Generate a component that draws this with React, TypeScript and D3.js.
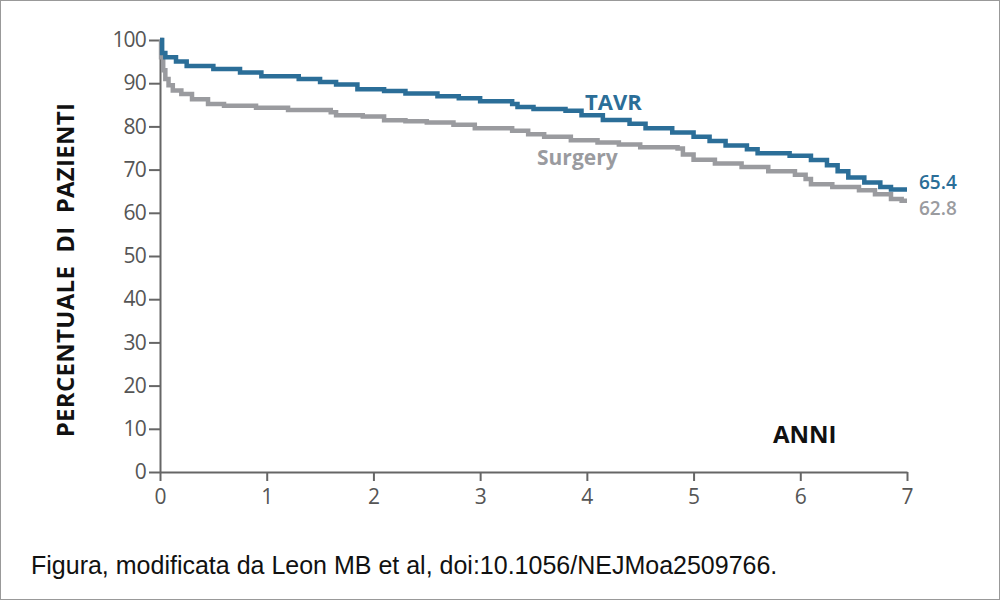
import { useEffect, useRef } from 'react';
import * as d3 from 'd3';

// Kaplan-Meier style curves (years, percent)
const tavrTimes = [0, 0.02, 0.05, 0.15, 0.25, 0.5, 0.75, 0.95, 1.3, 1.5, 1.65, 1.85, 2.1, 2.3, 2.6, 2.8, 3.0, 3.3, 3.35, 3.5, 3.8, 3.95, 4.15, 4.4, 4.55, 4.8, 5.0, 5.15, 5.3, 5.5, 5.6, 5.9, 6.1, 6.25, 6.35, 6.45, 6.6, 6.75, 6.85, 7.0];
const tavrValues = [100, 97, 96, 95, 94, 93.3, 92.5, 91.6, 91, 90.3, 89.7, 88.6, 88.2, 87.6, 87, 86.5, 85.8, 85.2, 84.5, 84, 83.6, 82.6, 81.5, 80.6, 79.6, 78.6, 77.6, 76.6, 75.6, 74.7, 73.8, 73.2, 72.2, 71, 69.6, 68.2, 67, 66, 65.4, 65.4];

const surgeryTimes = [0, 0.01, 0.03, 0.05, 0.08, 0.12, 0.2, 0.3, 0.45, 0.6, 0.9, 1.2, 1.6, 1.65, 1.9, 2.1, 2.3, 2.5, 2.75, 2.95, 3.3, 3.45, 3.6, 3.85, 4.1, 4.3, 4.5, 4.85, 4.9, 5.0, 5.2, 5.45, 5.7, 5.95, 6.05, 6.1, 6.3, 6.55, 6.7, 6.85, 6.95, 7.0];
const surgeryValues = [100, 96, 93, 91, 89.5, 88.3, 87.5, 86.3, 85.2, 84.8, 84.3, 83.8, 83.3, 82.6, 82.3, 81.4, 81.2, 80.9, 80.4, 79.6, 79.0, 78.2, 77.6, 76.8, 76.3, 75.8, 75.2, 74.9, 73.5, 72.3, 71.4, 70.6, 69.6, 68.8, 67.8, 66.6, 66, 65.2, 64.3, 63.2, 62.8, 62.8];

const xTicks = [0, 1, 2, 3, 4, 5, 6, 7];
const yTicks = [0, 10, 20, 30, 40, 50, 60, 70, 80, 90, 100];

const seriesNames = ['TAVR', 'Surgery'];
const finalLabels = ['65.4', '62.8'];

const BLUE = '#2b6e98';
const GRAY = '#9a9b9f';
const AXIS = '#666';
const TICK_TEXT = '#555';

export default function App() {
  const svgRef = useRef<SVGSVGElement>(null);

  useEffect(() => {
    if (!svgRef.current) return;
    document.body.style.margin = '0';

    const svg = d3.select(svgRef.current);
    svg.selectAll('*').remove();

    const width = 1000;
    const height = 600;
    const margin = { top: 40, right: 93, bottom: 128, left: 160 };

    svg.append('rect')
      .attr('x', 0.5).attr('y', 0.5)
      .attr('width', width - 1).attr('height', height - 1)
      .attr('fill', '#fff')
      .attr('stroke', '#999')
      .attr('stroke-width', 1);

    const x = d3.scaleLinear().domain([0, 7]).range([margin.left, width - margin.right]);
    const y = d3.scaleLinear().domain([0, 100]).range([height - margin.bottom, margin.top]);

    const font = '"Open Sans", "DejaVu Sans", sans-serif';

    // x axis
    const xAxis = svg.append('g')
      .attr('transform', `translate(0,${y(0)})`)
      .call(d3.axisBottom(x).tickValues(xTicks).tickFormat(d3.format('d')).tickSize(9).tickPadding(8).tickSizeOuter(0));
    xAxis.select('.domain').attr('stroke', AXIS).attr('stroke-width', 2);
    xAxis.selectAll('.tick line').attr('stroke', AXIS).attr('stroke-width', 2);
    xAxis.selectAll('.tick text')
      .attr('fill', TICK_TEXT)
      .style('font-family', font)
      .style('font-size', '21px')
      .style('font-weight', '500');

    // y axis
    const yAxis = svg.append('g')
      .attr('transform', `translate(${x(0)},0)`)
      .call(d3.axisLeft(y).tickValues(yTicks).tickSize(11).tickPadding(3).tickSizeOuter(0));
    yAxis.select('.domain').attr('stroke', AXIS).attr('stroke-width', 2);
    yAxis.selectAll('.tick line').attr('stroke', AXIS).attr('stroke-width', 2);
    yAxis.selectAll('.tick text')
      .attr('fill', TICK_TEXT)
      .style('font-family', font)
      .style('font-size', '21px')
      .style('font-weight', '500')
      .style('letter-spacing', '-0.8px');

    const line = d3.line<[number, number]>()
      .x(d => x(d[0]))
      .y(d => y(d[1]))
      .curve(d3.curveStepAfter);

    const surgeryData = surgeryTimes.map((t, i) => [t, surgeryValues[i]] as [number, number]);
    const tavrData = tavrTimes.map((t, i) => [t, tavrValues[i]] as [number, number]);

    svg.append('path')
      .datum(surgeryData)
      .attr('d', line)
      .attr('fill', 'none')
      .attr('stroke', GRAY)
      .attr('stroke-width', 4.5);

    svg.append('path')
      .datum(tavrData)
      .attr('d', line)
      .attr('fill', 'none')
      .attr('stroke', BLUE)
      .attr('stroke-width', 4.5);

    // series labels
    svg.append('text')
      .attr('x', 585).attr('y', 110)
      .attr('fill', BLUE)
      .style('font-family', font)
      .style('font-size', '22px')
      .style('font-weight', '700')
      .text(seriesNames[0]);

    svg.append('text')
      .attr('x', 537).attr('y', 165)
      .attr('fill', GRAY)
      .style('font-family', font)
      .style('font-size', '21px')
      .style('font-weight', '700')
      .text(seriesNames[1]);

    svg.append('text')
      .attr('x', x(7) + 12).attr('y', 189)
      .attr('fill', BLUE)
      .style('font-family', font)
      .style('font-size', '19px')
      .style('font-weight', '600')
      .text(finalLabels[0]);

    svg.append('text')
      .attr('x', x(7) + 12).attr('y', 215)
      .attr('fill', GRAY)
      .style('font-family', font)
      .style('font-size', '19px')
      .style('font-weight', '600')
      .text(finalLabels[1]);

    // axis titles
    svg.append('text')
      .attr('transform', `translate(74,270) rotate(-90)`)
      .attr('text-anchor', 'middle')
      .attr('fill', '#111')
      .style('font-family', font)
      .style('font-size', '24px')
      .style('font-weight', '700')
      .style('white-space', 'pre')
      .style('letter-spacing', '0.3px')
      .text('PERCENTUALE  DI  PAZIENTI');

    svg.append('text')
      .attr('x', 773).attr('y', 443)
      .attr('fill', '#111')
      .style('font-family', font)
      .style('font-size', '24px')
      .style('font-weight', '700')
      .text('ANNI');

    svg.append('text')
      .attr('x', 31).attr('y', 574)
      .attr('fill', '#111')
      .style('font-family', '"Liberation Sans", Arial, sans-serif')
      .style('font-size', '25px')
      .text('Figura, modificata da Leon MB et al, doi:10.1056/NEJMoa2509766.');
  }, []);

  return (
    <svg
      ref={svgRef}
      width={1000}
      height={600}
      style={{ display: 'block', position: 'absolute', left: 0, top: 0 }}
    />
  );
}
